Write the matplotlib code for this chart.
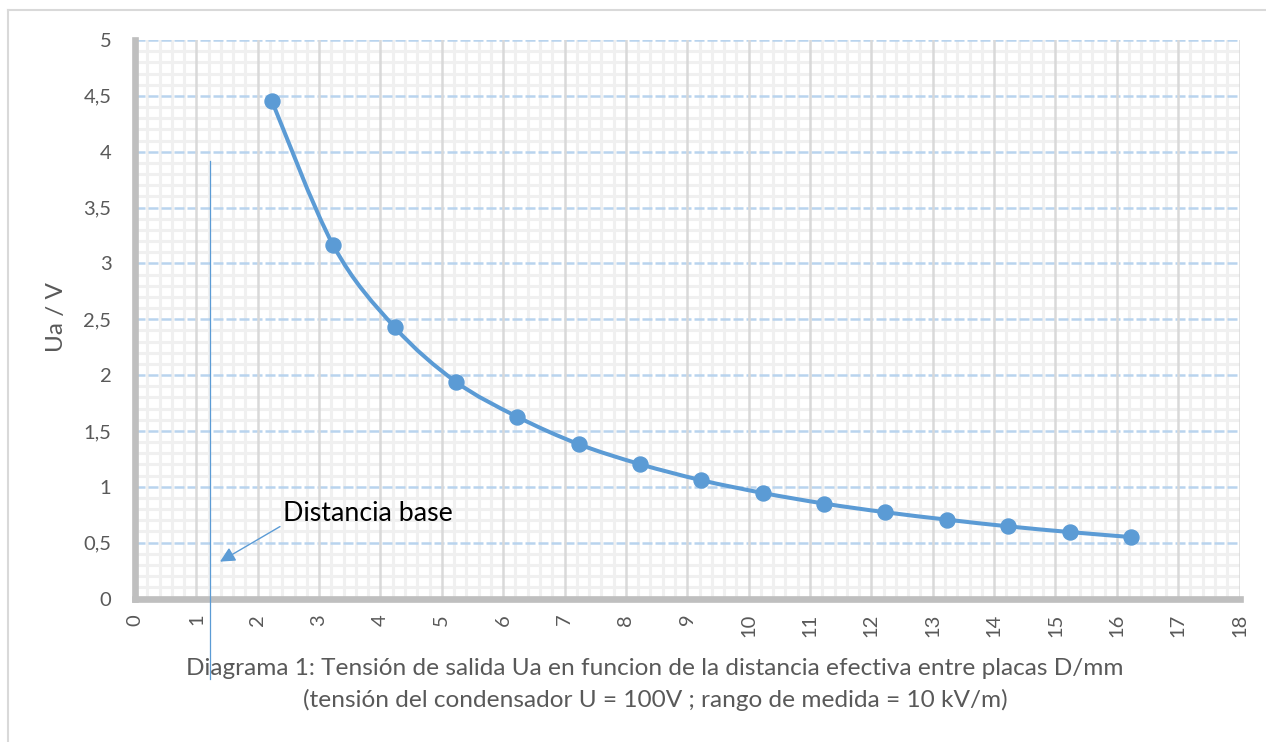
import matplotlib
matplotlib.use("Agg")
import matplotlib.pyplot as plt
from matplotlib.path import Path
from matplotlib.patches import PathPatch
import numpy as np

# ---- data ----
x_values = [2.23, 3.23, 4.23, 5.23, 6.23, 7.23, 8.23, 9.23, 10.23, 11.23,
            12.23, 13.23, 14.23, 15.23, 16.23]
y_values = [4.455, 3.163, 2.43, 1.94, 1.627, 1.382, 1.203, 1.059, 0.945, 0.850,
            0.772, 0.706, 0.646, 0.595, 0.550]
x_ticks = list(range(0, 19))
y_ticks = [0, 0.5, 1, 1.5, 2, 2.5, 3, 3.5, 4, 4.5, 5]
y_ticklabels = ["0", "0,5", "1", "1,5", "2", "2,5", "3", "3,5", "4", "4,5", "5"]
y_label = "Ua / V"
caption_1 = "Diagrama 1: Tensión de salida Ua en funcion de la distancia efectiva entre placas D/mm"
caption_2 = "(tensión del condensador U = 100V ; rango de medida = 10 kV/m)"
annot_text = "Distancia base"
base_x = 1.222

FONT = "Lato"
plt.rcParams['font.family'] = [FONT, 'DejaVu Sans']

W, H = 1266, 742
fig = plt.figure(figsize=(W / 100, H / 100), dpi=100)
fig.patch.set_facecolor("white")

L, R, T, B = 135, 1239.5, 40, 598.5
ax = fig.add_axes([L / W, 1 - B / H, (R - L) / W, (B - T) / H])
ax.set_xlim(0, 18)
ax.set_ylim(0, 5)
ax.set_facecolor("white")

# minor grid (drawn below the major grid)
x_minor = [v for v in np.round(np.arange(0, 18.001, 0.2), 3) if abs(v - round(v)) > 1e-6]
y_minor = [v for v in np.round(np.arange(0, 5.001, 0.1), 3) if abs(v * 2 - round(v * 2)) > 1e-6]
for v in x_minor:
    ax.axvline(v, color="#f0f0f0", lw=2.2, zorder=0.1)
for v in y_minor:
    ax.axhline(v, color="#f0f0f0", lw=2.2, zorder=0.1)
for v in x_ticks:
    ax.axvline(v, color="#d9d9d9", lw=1.8, zorder=0.3)
for v in y_ticks[1:]:
    ax.axhline(v, color="#b9d4ee", lw=1.8, linestyle=(0, (4, 1.2)), zorder=0.2)

ax.set_xticks(x_ticks)
ax.set_xticklabels([str(t) for t in x_ticks], rotation=90)
ax.set_yticks(y_ticks)
ax.set_yticklabels(y_ticklabels)
ax.tick_params(which="major", length=0, labelsize=14.5, labelcolor="#595959")
ax.tick_params(axis="y", pad=17)
ax.tick_params(axis="x", pad=11)

for s in ["top", "right"]:
    ax.spines[s].set_visible(False)
for s in ["left", "bottom"]:
    ax.spines[s].set_color("#bfbfbf")
    ax.spines[s].set_linewidth(4.8)
    ax.spines[s].set_zorder(3)

# smoothed line (Catmull-Rom style Bezier, like Excel smoothing)
pts = np.column_stack([x_values, y_values])
n = len(pts)
verts = [pts[0]]
codes = [Path.MOVETO]
for i in range(n - 1):
    p0 = pts[i - 1] if i > 0 else pts[i]
    p1 = pts[i]
    p2 = pts[i + 1]
    p3 = pts[i + 2] if i + 2 < n else pts[i + 1]
    c1 = p1 + (p2 - p0) / 6.0
    c2 = p2 - (p3 - p1) / 6.0
    verts += [c1, c2, p2]
    codes += [Path.CURVE4] * 3
path = Path(verts, codes)
ax.add_patch(PathPatch(path, facecolor="none", edgecolor="#5b9bd5", lw=2.9,
                       zorder=4, capstyle="round", joinstyle="round"))
ax.plot(x_values, y_values, linestyle="none", marker="o", markersize=10.8,
        color="#5b9bd5", zorder=5)

# annotation
ax.plot([base_x, base_x], [3.918, -0.722], color="#5b9bd5", lw=0.9,
        clip_on=False, zorder=6)
ax.annotate("", xy=(1.385, 0.330), xytext=(2.363, 0.644),
            arrowprops=dict(arrowstyle="-|>,head_length=0.9,head_width=0.45",
                            color="#5b9bd5", lw=1.0, shrinkA=0, shrinkB=0),
            zorder=6)
ax.text(2.417, 0.695, annot_text, fontsize=19.3, color="black",
        ha="left", va="baseline", zorder=6)

# axis title and caption
fig.text(57 / W, 1 - 317 / H, y_label, rotation=90, fontsize=17.5,
         color="#595959", ha="center", va="center")
fig.text(655 / W, 1 - 675 / H, caption_1, fontsize=17.6, color="#595959",
         ha="center", va="baseline")
fig.text(655 / W, 1 - 707 / H, caption_2, fontsize=17.6, color="#595959",
         ha="center", va="baseline")

# outer border (clipped at right/bottom)
fig.add_artist(plt.Line2D([8 / W, 1.0], [1 - 10 / H, 1 - 10 / H],
                          transform=fig.transFigure, color="#d9d9d9", lw=1.5))
fig.add_artist(plt.Line2D([8 / W, 8 / W], [1 - 10 / H, 0.0],
                          transform=fig.transFigure, color="#d9d9d9", lw=1.5))

fig.savefig("out.png", dpi=100, facecolor="white")
